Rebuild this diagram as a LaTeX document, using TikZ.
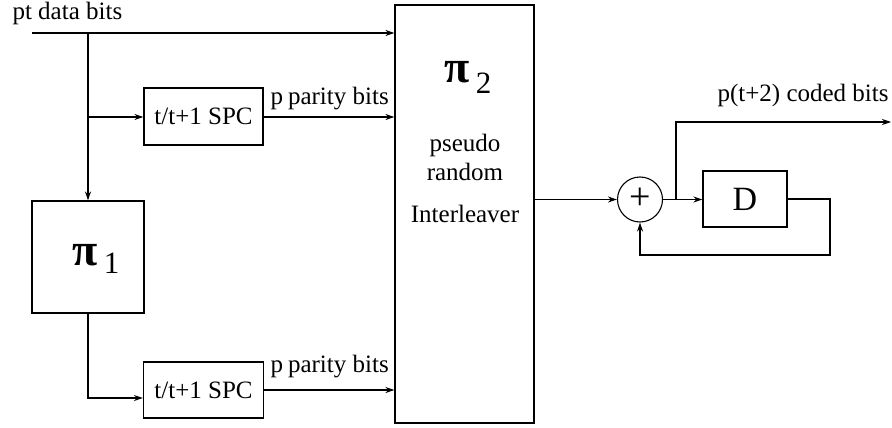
\documentclass[tikz,border=0pt]{standalone}
\usepackage{fontspec}
\setmainfont{Liberation Serif}
\usetikzlibrary{arrows.meta}
\newcommand{\mypi}{\textbf{π}}
\begin{document}
\begin{tikzpicture}[x=1pt,y=-1pt,
  line width=1.1pt,
  arr/.style={-{Stealth[length=9pt,width=6pt]}},
  blk/.style={draw,rectangle,inner sep=0pt,align=center},
  lbl/.style={font=\fontsize{25}{28}\selectfont,inner sep=0pt},
  bigpi/.style={font=\fontsize{46}{50}\selectfont,inner sep=0pt}
]
\useasboundingbox (0,0) rectangle (892,428);

% blocks
\node[blk,minimum width=139pt,minimum height=418pt] (inter) at (464.5,214) {};
\node[blk,minimum width=119pt,minimum height=57pt,lbl] (spc1) at (203.5,116.5) {t/t+1 SPC};
\node[blk,minimum width=112pt,minimum height=112pt] (pi1) at (88,257) {};
\node[blk,minimum width=120pt,minimum height=56pt,lbl] (spc2) at (203.5,390) {t/t+1 SPC};
\node[draw,circle,minimum size=45pt,inner sep=0pt,font=\fontsize{38}{38}\selectfont] (sum) at (640,199.5) {\raisebox{2pt}{+}};
\node[blk,minimum width=84pt,minimum height=56pt,font=\fontsize{34}{34}\selectfont] (dl) at (745,199) {D};

% pi labels
\node[bigpi,anchor=base west] (pione) at (72,265) {\mypi\hspace{6pt}\raisebox{-8pt}{\fontsize{31}{31}\selectfont 1}};
\node[bigpi,anchor=base west] (pitwo) at (444,82) {\mypi\hspace{6pt}\raisebox{-12pt}{\fontsize{31}{31}\selectfont 2}};
\node[lbl] (ps) at (465,145) {pseudo};
\node[lbl] (rd) at (465,172) {random};
\node[lbl] (il) at (465,214) {Interleaver};

% text labels
\node[lbl,anchor=base west] (tdata) at (12,20) {pt data bits};
\node[lbl,anchor=base west] (tpar1) at (270,105) {p\hspace{5pt}parity bits};
\node[lbl,anchor=base west] (tpar2) at (270,372) {p\hspace{5pt}parity bits};
\node[lbl,anchor=base west] (tcoded) at (717,102) {p(t+2) coded bits};

% coordinates
\coordinate (in) at (32,33);
\coordinate (j1) at (88,33);
\coordinate (j2) at (88,117);
\coordinate (j3) at (88,398);
\coordinate (br) at (676,199.5);
\coordinate (outend) at (891,122);
\coordinate (fb1) at (830,199);
\coordinate (fb2) at (830,255);

% connectors
\draw[arr] (in) -- (in -| inter.west);
\draw[arr] (j2) -- (spc1.west |- j2);
\draw[arr] (spc1.east |- j2) -- (inter.west |- j2);
\draw[arr] (j1) -- (pi1.north);
\draw[arr] (pi1.south) -- (j3) -- (spc2.west |- j3);
\draw[arr] (spc2.east) -- (inter.west |- spc2.east);
\draw[arr] (inter.east |- sum.west) -- (sum.west);
\draw[arr] (sum.east) -- (dl.west |- sum.east);
\draw[arr] (br) -- (br |- outend) -- (outend);
\draw[arr] (dl.east) -- (fb1) -- (fb2) -- (sum.south |- fb2) -- (sum.south);
\end{tikzpicture}
\end{document}
